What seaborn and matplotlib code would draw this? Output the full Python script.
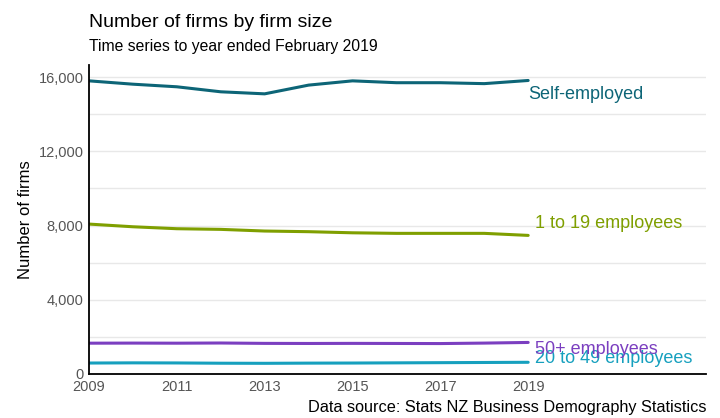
import matplotlib
matplotlib.use("Agg")
import matplotlib.pyplot as plt
import seaborn as sns
import pandas as pd
from matplotlib.ticker import FuncFormatter, MultipleLocator

sns.set_theme(style="white")
plt.rcParams['font.family'] = ['Liberation Sans', 'DejaVu Sans']

# data
years = list(range(2009, 2020))
self_employed = [15800, 15620, 15480, 15210, 15100, 15570, 15800, 15700, 15700, 15650, 15820]
emp_1_19 = [8080, 7935, 7830, 7795, 7705, 7670, 7610, 7580, 7580, 7580, 7470]
emp_20_49 = [590, 600, 595, 580, 575, 585, 590, 600, 610, 620, 630]
emp_50_plus = [1660, 1665, 1660, 1670, 1650, 1645, 1650, 1645, 1640, 1665, 1700]

series = ["Self-employed", "1 to 19 employees", "20 to 49 employees", "50+ employees"]
colors = ["#0d6577", "#7f9f00", "#16a0be", "#7b3fc0"]

df = pd.DataFrame({
    "year": years * 4,
    "firms": self_employed + emp_1_19 + emp_20_49 + emp_50_plus,
    "size": [s for s in series for _ in years],
})

fig = plt.figure(figsize=(7.2, 4.18), dpi=100)
ax = fig.add_axes([0.1236, 0.1053, 0.857, 0.739])

sns.lineplot(data=df, x="year", y="firms", hue="size", palette=dict(zip(series, colors)),
             linewidth=2.2, legend=False, ax=ax)

# end labels next to the last point of each line
label_offsets = {"Self-employed": -780, "1 to 19 employees": 650,
                 "20 to 49 employees": 190, "50+ employees": -360}
for s, c in zip(series, colors):
    last = df[df["size"] == s].iloc[-1]
    ax.text(last["year"] + (0.0 if s == "Self-employed" else 0.16), last["firms"] + label_offsets[s],
            s, color=c, fontsize=13, va="center", ha="left")

ax.set_xlim(2009, 2023.05)
ax.set_ylim(0, 16650)
ax.set_xticks([2009, 2011, 2013, 2015, 2017, 2019])
ax.yaxis.set_major_locator(MultipleLocator(4000))
ax.yaxis.set_minor_locator(MultipleLocator(2000))
ax.yaxis.set_major_formatter(FuncFormatter(lambda v, p: f"{int(v):,}"))
ax.grid(axis="y", which="both", color="#e8e8e8", linewidth=1)
ax.set_axisbelow(True)

for side in ["top", "right"]:
    ax.spines[side].set_visible(False)
for side in ["left", "bottom"]:
    ax.spines[side].set_color("black")
    ax.spines[side].set_linewidth(1.3)

ax.tick_params(axis="x", colors="#555555", labelsize=10.5, length=3, width=1, pad=1.5)
ax.tick_params(axis="x", which="both", color="black")
ax.tick_params(axis="y", colors="#555555", labelsize=10.5, length=0, pad=4)
ax.set_xlabel("")
ax.set_ylabel("Number of firms", fontsize=12, color="black")

fig.text(0.1236, 0.935, "Number of firms by firm size", fontsize=14, color="black")
fig.text(0.1236, 0.877, "Time series to year ended February 2019", fontsize=11.3, color="black")
fig.text(0.981, 0.015, "Data source: Stats NZ Business Demography Statistics", fontsize=11.7,
         color="black", ha="right")

fig.savefig("out.png", dpi=100)
